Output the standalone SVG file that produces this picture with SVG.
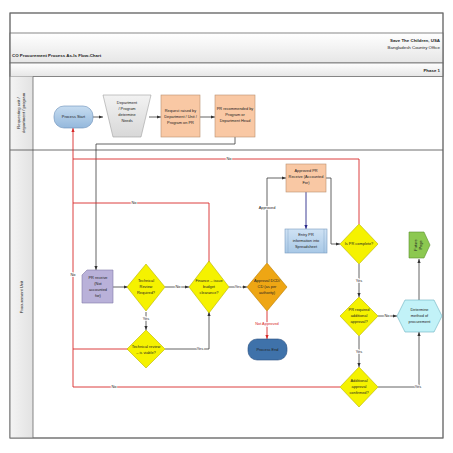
<svg xmlns="http://www.w3.org/2000/svg" width="453" height="453" viewBox="0 0 453 453">
<defs>
<linearGradient id="hdr" x1="0" y1="0" x2="0" y2="1"><stop offset="0" stop-color="#ffffff"/><stop offset="1" stop-color="#e6e6e6"/></linearGradient>
<linearGradient id="side" x1="0" y1="0" x2="1" y2="0"><stop offset="0" stop-color="#f4f4f4"/><stop offset="1" stop-color="#e2e2e2"/></linearGradient>
<linearGradient id="start" x1="0" y1="0" x2="0" y2="1"><stop offset="0" stop-color="#c6dcf0"/><stop offset="1" stop-color="#94b8dc"/></linearGradient>
<linearGradient id="trap" x1="0" y1="0" x2="0" y2="1"><stop offset="0" stop-color="#f2f2f2"/><stop offset="1" stop-color="#d8d8d8"/></linearGradient>
<linearGradient id="entry" x1="0" y1="0" x2="0" y2="1"><stop offset="0" stop-color="#cfe2f4"/><stop offset="1" stop-color="#a8c8e6"/></linearGradient>
<marker id="ak" viewBox="0 0 10 10" refX="10" refY="5" markerWidth="4" markerHeight="4" markerUnits="userSpaceOnUse" orient="auto"><path d="M0,1 L10,5 L0,9 z" fill="#333"/></marker>
<marker id="ar" viewBox="0 0 10 10" refX="10" refY="5" markerWidth="4" markerHeight="4" markerUnits="userSpaceOnUse" orient="auto"><path d="M0,1 L10,5 L0,9 z" fill="#d82828"/></marker>
<marker id="an" viewBox="0 0 10 10" refX="10" refY="5" markerWidth="4" markerHeight="4" markerUnits="userSpaceOnUse" orient="auto"><path d="M0,1 L10,5 L0,9 z" fill="#2a2a8a"/></marker>
</defs>
<style>
text{font-family:"Liberation Sans","DejaVu Sans",sans-serif;font-size:3.9px;fill:#222;text-anchor:middle}
.b{font-weight:bold}
.hd{font-size:4.4px}
.r{text-anchor:end}
.l{text-anchor:start}
.lane{font-size:4.2px}
.ck{fill:none;stroke:#3c3c3c;stroke-width:0.8}
.cr{fill:none;stroke:#d82828;stroke-width:0.9}
.cn{fill:none;stroke:#2a2a8a;stroke-width:0.9}
.lbl{paint-order:stroke;stroke:#fff;stroke-width:1.6px}
.red{fill:#d82828}
.dia{fill:#f5f200;stroke:#b8b400;stroke-width:0.6}
.peach{fill:#f9c8a4;stroke:#b89070;stroke-width:0.6}
.frame{fill:none;stroke:#6a6a6a;stroke-width:0.9}
</style>

<g id="frame">
<rect x="10" y="13" width="433" height="425" fill="#fff" stroke="#6a6a6a" stroke-width="0.9"/>
<rect x="10" y="33" width="433" height="30" fill="url(#hdr)" stroke="#6a6a6a" stroke-width="0.8"/>
<rect x="10" y="63" width="433" height="13.5" fill="url(#hdr)" stroke="#6a6a6a" stroke-width="0.8"/>
<rect x="10" y="76.5" width="23" height="361.5" fill="url(#side)"/>
<line x1="33" y1="76.5" x2="33" y2="438" stroke="#6a6a6a" stroke-width="0.8"/>
<line x1="10" y1="150" x2="443" y2="150" stroke="#4a4a4a" stroke-width="0.8"/>
<rect x="10" y="13" width="433" height="425" class="frame"/>
<text x="440" y="42" class="b hd r">Save The Children, USA</text>
<text x="440" y="49" class="hd r">Bangladesh Country Office</text>
<text x="12" y="57" class="b hd l">CO Procurement Process As-Is Flow-Chart</text>
<text x="440" y="71.5" class="b hd r">Phase 1</text>
<text transform="translate(19.5,113) rotate(-90)" class="lane">Requesting unit /</text>
<text transform="translate(25,113) rotate(-90)" class="lane">department / program</text>
<text transform="translate(22.5,297) rotate(-90)" class="lane">Procurement Unit</text>
</g>

<g id="connectors">
<path class="ck" d="M93,117 H103" marker-end="url(#ak)"/>
<path class="ck" d="M149,117 H161" marker-end="url(#ak)"/>
<path class="ck" d="M200,117 H215" marker-end="url(#ak)"/>
<path class="ck" d="M235,137 V144 H96 V270" marker-end="url(#ak)"/>
<path class="cr" d="M359,224 V159 H73"/>
<path class="cr" d="M209,263 V203 H73"/>
<path class="cr" d="M128,349 H73"/>
<path class="cr" d="M340,387 H73 V128" marker-end="url(#ar)"/>
<path class="ck" d="M113,287 H128" marker-end="url(#ak)"/>
<path class="ck" d="M165,287 H189" marker-end="url(#ak)"/>
<path class="ck" d="M146,312 V330" marker-end="url(#ak)"/>
<path class="ck" d="M165,349 H209 V312" marker-end="url(#ak)"/>
<path class="ck" d="M229,287 H247" marker-end="url(#ak)"/>
<path class="cr" d="M267,311 V339" marker-end="url(#ar)"/>
<path class="ck" d="M267,263 V178 H286" marker-end="url(#ak)"/>
<path class="cn" d="M306,192 V229" marker-end="url(#an)"/>
<path class="ck" d="M326,178 H331 V244 H340" marker-end="url(#ak)"/>
<path class="ck" d="M359,264 V297" marker-end="url(#ak)"/>
<path class="ck" d="M378,316 H397" marker-end="url(#ak)"/>
<path class="ck" d="M359,336 V367" marker-end="url(#ak)"/>
<path class="ck" d="M378,387 H419 V332" marker-end="url(#ak)"/>
<path class="ck" d="M419,300 V259" marker-end="url(#ak)"/>
<text x="229" y="160.4" class="lbl">No</text>
<text x="134" y="204.4" class="lbl">No</text>
<text x="73" y="276.4" class="lbl">No</text>
<text x="114" y="388.4" class="lbl">No</text>
<text x="178" y="288.4" class="lbl">No</text>
<text x="146" y="320" class="lbl">Yes</text>
<text x="200" y="350.4" class="lbl">Yes</text>
<text x="238" y="288.4" class="lbl">Yes</text>
<text x="267" y="324.5" class="lbl red">Not Approved</text>
<text x="267" y="209.4" class="lbl">Approved</text>
<text x="359" y="282" class="lbl">Yes</text>
<text x="387" y="317.4" class="lbl">No</text>
<text x="359" y="353" class="lbl">Yes</text>
<text x="418" y="388.4" class="lbl">Yes</text>
</g>

<g id="process-start">
<rect x="54" y="106" width="39" height="22" rx="10" fill="url(#start)" stroke="#6a8fb8" stroke-width="0.6"/>
<text x="73.5" y="118.3">Process Start</text>
</g>
<g id="determine-needs">
<path d="M103,95 H151 L141,137 H113 Z" fill="url(#trap)" stroke="#a0a0a0" stroke-width="0.6"/>
<text x="127" y="104">Department</text>
<text x="127" y="110">/ Program</text>
<text x="127" y="116">determine</text>
<text x="127" y="122">Needs</text>
</g>
<g id="request-raised">
<rect x="161" y="95" width="39" height="42" class="peach"/>
<text x="180.5" y="112">Request raised by</text>
<text x="180.5" y="118">Department / Unit /</text>
<text x="180.5" y="124">Program on PR</text>
</g>
<g id="pr-recommended">
<rect x="215" y="95" width="40" height="42" class="peach"/>
<text x="235" y="110">PR recommended by</text>
<text x="235" y="116">Program or</text>
<text x="235" y="122">Department Head</text>
</g>
<g id="pr-receive">
<path d="M87,270 H113 V303 H82 V275 Z" fill="#b9b1d9" stroke="#8078a8" stroke-width="0.6"/>
<text x="98" y="279">PR receive</text>
<text x="98" y="285">(Not</text>
<text x="98" y="291">accounted</text>
<text x="98" y="297">for)</text>
</g>
<g id="technical-review">
<path d="M146,264 L165,287 L146,311 L127,287 Z" class="dia"/>
<text x="146" y="282">Technical</text>
<text x="146" y="288">Review</text>
<text x="146" y="294">Required?</text>
</g>
<g id="technical-viable">
<path d="M146,330 L165,349 L146,368 L127,349 Z" class="dia"/>
<text x="146" y="347.5">Technical review</text>
<text x="146" y="353.5">– is viable?</text>
</g>
<g id="finance">
<path d="M209,261 L229,287 L209,313 L189,287 Z" class="dia"/>
<text x="209" y="282">Finance –   issue</text>
<text x="209" y="288">budget</text>
<text x="209" y="294">clearance?</text>
</g>
<g id="approval">
<path d="M267,263 L287,287 L267,311 L247,287 Z" fill="#eea614" stroke="#b87c00" stroke-width="0.6"/>
<text x="267" y="282">Approval DCD/</text>
<text x="267" y="288">CD (as per</text>
<text x="267" y="294">authority)</text>
</g>
<g id="process-end">
<rect x="248" y="339" width="39" height="21" rx="9" fill="#3f72aa" stroke="#2a4f80" stroke-width="0.6"/>
<text x="267.5" y="351">Process End</text>
</g>
<g id="approved-pr-review">
<rect x="286" y="164" width="40" height="28" class="peach"/>
<text x="306" y="172">Approved PR</text>
<text x="306" y="178">Receive (Accounted</text>
<text x="306" y="184">For)</text>
</g>
<g id="entry-pr">
<rect x="285" y="229" width="42" height="24" fill="url(#entry)" stroke="#7a9cc0" stroke-width="0.6"/>
<line x1="288" y1="229" x2="288" y2="253" stroke="#7a9cc0" stroke-width="0.4"/>
<line x1="324" y1="229" x2="324" y2="253" stroke="#7a9cc0" stroke-width="0.4"/>
<text x="306" y="235.5">Entry PR</text>
<text x="306" y="241.5">information into</text>
<text x="306" y="247.5">Spreadsheet</text>
</g>
<g id="is-pr-complete">
<path d="M359,224 L378,244 L359,264 L340,244 Z" class="dia"/>
<text x="359" y="245.4">Is PR complete?</text>
</g>
<g id="pr-required-approval">
<path d="M359,297 L378,316 L359,336 L340,316 Z" class="dia"/>
<text x="359" y="311">PR required</text>
<text x="359" y="317">additional</text>
<text x="359" y="323">approval?</text>
</g>
<g id="additional-approval">
<path d="M359,367 L378,387 L359,407 L340,387 Z" class="dia"/>
<text x="359" y="382">Additional</text>
<text x="359" y="388">approval</text>
<text x="359" y="394">confirmed?</text>
</g>
<g id="determine-method">
<path d="M405,300 H434 L442,316 L434,332 H405 L397,316 Z" fill="#c2f2f8" stroke="#6ab0c0" stroke-width="0.6"/>
<text x="419.5" y="311">Determine</text>
<text x="419.5" y="317">method of</text>
<text x="419.5" y="323">procurement</text>
</g>
<g id="future-page">
<path d="M409,232 H424 L430,245 L424,258 H409 Z" fill="#8cc850" stroke="#5a9030" stroke-width="0.6"/>
<text transform="translate(417,245) rotate(-90)">Future</text>
<text transform="translate(422,245) rotate(-90)">Page</text>
</g>
</svg>
